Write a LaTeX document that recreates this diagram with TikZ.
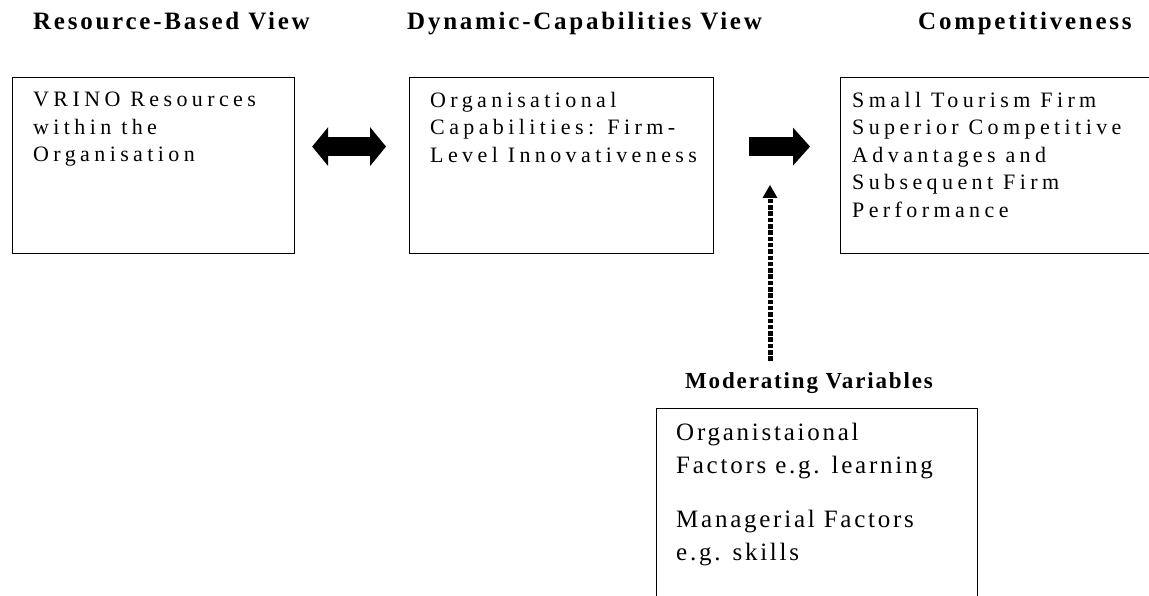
\documentclass[tikz,border=0pt]{standalone}
\usepackage{fontspec}
\setmainfont{Liberation Serif}
\newfontfamily\boxfont[LetterSpace=20]{Liberation Serif}
\newfontfamily\modfont[LetterSpace=11]{Liberation Serif}
\newfontfamily\headfont[LetterSpace=11]{Liberation Serif}
\newfontfamily\modheadfont[LetterSpace=8]{Liberation Serif}
\usepackage{tikz}
\usetikzlibrary{arrows.meta,positioning}
\tikzset{>=Stealth}

\begin{document}
\begin{tikzpicture}[x=1pt,y=-1pt,
              box/.style={draw=black, line width=1.2pt, rectangle, inner sep=0pt, anchor=north west},
              boxtext/.style={anchor=north west, inner sep=0pt, align=left, font=\boxfont\fontsize{22}{27.5}\selectfont},
              modtext/.style={anchor=north west, inner sep=0pt, align=left, font=\modfont\fontsize{25}{33}\selectfont},
              head/.style={inner sep=0pt, anchor=base west, font=\headfont\bfseries\fontsize{25}{28}\selectfont},
              blockarrow/.style={line width=18.5pt},
              dotarrow/.style={line width=5pt, dash pattern=on 4.5pt off 1.8pt, -{Triangle[length=13pt,width=15pt,line width=0pt]}},
             ]
\useasboundingbox (0,0) rectangle (1149,596);
\clip (0,0) rectangle (1149,596);
% headings
\node[head] (rbvhead) at (33,30) {Resource-Based View};
\node[head] (dcvhead) at (407,30) {Dynamic-Capabilities View};
\node[head] (comphead) at (918,30) {Competitiveness};
\node[head, font=\modheadfont\bfseries\fontsize{23}{26}\selectfont] (modhead) at (685,388) {Moderating Variables};
% boxes
\node[box, minimum width=282pt, minimum height=176pt] (rbv) at (12,77) {};
\node[box, minimum width=304pt, minimum height=176pt] (dcv) at (409,77) {};
\node[box, minimum width=330pt, minimum height=176pt] (comp) at (840,77) {};
\node[box, minimum width=321pt, minimum height=220pt] (mod) at (656,408) {};
\node[boxtext] (rbvtext) at ([xshift=21pt,yshift=-15pt]rbv.north west) {VRINO Resources\\within the\\Organisation};
\node[boxtext] (dcvtext) at ([xshift=21pt,yshift=-15pt]dcv.north west) {Organisational\\Capabilities: Firm-\\Level Innovativeness};
\node[boxtext] (comptext) at ([xshift=12pt,yshift=-15pt]comp.north west) {Small Tourism Firm\\Superior Competitive\\Advantages and\\Subsequent Firm\\Performance};
\node[modtext] (modtext) at ([xshift=20pt,yshift=-15pt]mod.north west) {Organistaional\\Factors e.g. learning\\[21pt]Managerial Factors\\e.g. skills};
% arrows
\coordinate (modtip) at (770,185);
\draw[blockarrow, {Triangle[length=16pt,width=39pt,line width=0pt]}-{Triangle[length=16pt,width=39pt,line width=0pt]}, shorten <=17pt, shorten >=23pt] ([yshift=19pt]rbv.east) -- ([yshift=19pt]dcv.west);
\draw[blockarrow, line width=19pt, -{Triangle[length=17pt,width=38pt,line width=0pt]}, shorten <=35pt, shorten >=30pt] ([yshift=19pt]dcv.east) -- ([yshift=19pt]comp.west);
\draw[dotarrow, shorten <=11pt] (modtip |- modhead.north) -- (modtip);
\end{tikzpicture}
\end{document}
